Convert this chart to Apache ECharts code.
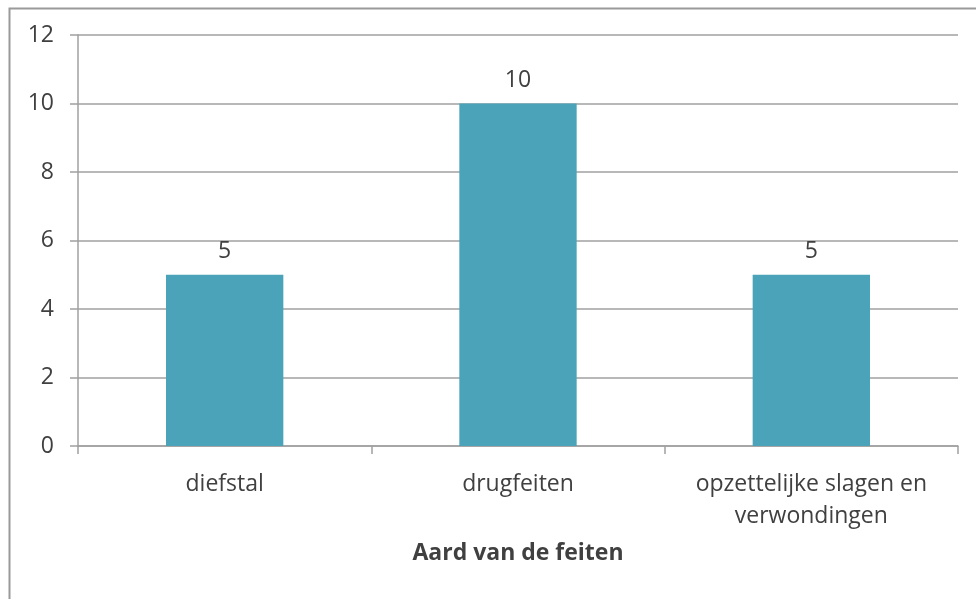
<!DOCTYPE html>
<html><head><meta charset="utf-8">
<script src="https://cdn.jsdelivr.net/npm/echarts@6/dist/echarts.min.js"></script>
<style>html,body{margin:0;padding:0;background:#fff}#c{width:976px;height:599px}</style>
</head><body><div id="c"></div>
<script>
const categories = ['diefstal', 'drugfeiten', 'opzettelijke slagen en\nverwondingen'];
const values = [5, 10, 5];
const yTicks = [0, 2, 4, 6, 8, 10, 12];
const axisTitle = 'Aard van de feiten';

const chart = echarts.init(document.getElementById('c'), null, {renderer: 'canvas'});
const font = '"Open Sans", "Noto Sans", sans-serif';
chart.setOption({
  animation: false,
  graphic: [{
    type: 'rect', left: 7, top: 6, shape: {x: 0, y: 0, width: 1000, height: 620},
    style: {fill: 'none', stroke: '#9a9a9a', lineWidth: 2}, silent: true
  }],
  grid: {left: 78, right: 18, top: 35, bottom: 153, containLabel: false},
  xAxis: {
    type: 'category', data: categories,
    name: axisTitle, nameLocation: 'middle', nameGap: 96,
    nameTextStyle: {fontFamily: font, fontSize: 23, fontWeight: 'bold', color: '#404040'},
    axisLine: {lineStyle: {color: '#a0a0a0', width: 1.5}},
    axisTick: {show: true, length: 8, inside: false, alignWithLabel: false, lineStyle: {color: '#a0a0a0', width: 1.5}},
    axisLabel: {fontFamily: font, fontSize: 23, color: '#404040', margin: 22, lineHeight: 32, interval: 0},
    splitLine: {show: false}
  },
  yAxis: {
    type: 'value', min: yTicks[0], max: yTicks[yTicks.length - 1], interval: 2,
    axisLine: {show: true, lineStyle: {color: '#a0a0a0', width: 1.5}},
    axisTick: {show: true, length: 8, inside: false, lineStyle: {color: '#a0a0a0', width: 1.5}},
    axisLabel: {fontFamily: font, fontSize: 23, color: '#404040', margin: 24},
    splitLine: {show: true, lineStyle: {color: '#a0a0a0', width: 1.5}}
  },
  series: [{
    type: 'bar', data: values, barWidth: '40%',
    itemStyle: {color: '#4aa3b8'},
    label: {show: true, position: 'top', distance: 12, fontFamily: font, fontSize: 23, color: '#404040'}
  }]
});
</script></body></html>
